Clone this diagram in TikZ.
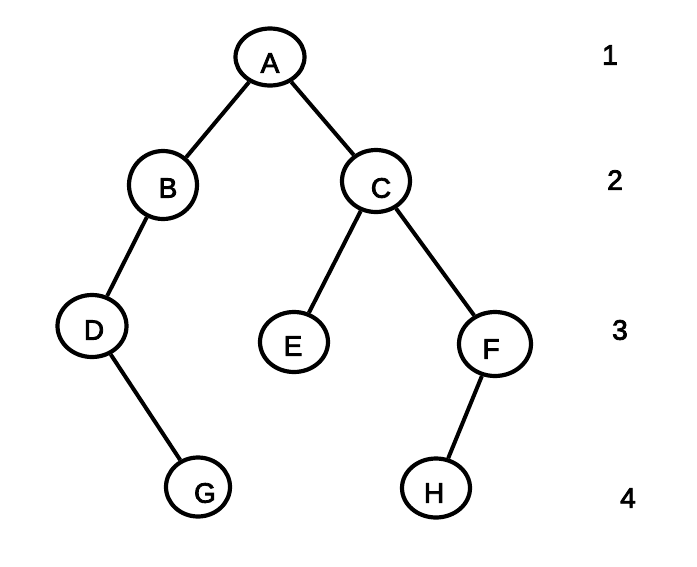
\documentclass[tikz,border=0pt]{standalone}
\usepackage{fontspec}
\setmainfont{Liberation Sans}[BoldFont=Liberation Sans,BoldFeatures={FakeBold=3}]
\usetikzlibrary{shapes.geometric}
\begin{document}
\begin{tikzpicture}[x=1pt,y=-1pt,
  tnode/.style={draw,ellipse,line width=4.2pt,inner sep=0pt,minimum width=#1},
  lbl/.style={font=\fontsize{28}{30}\selectfont\bfseries,inner sep=0pt,anchor=center},
  edge/.style={line width=4pt}]
\useasboundingbox (0,0) rectangle (697,566);
\node[tnode=69pt,minimum height=57pt] (A) at (270,57) {};
\node[tnode=68pt,minimum height=68pt] (B) at (163,185) {};
\node[tnode=68pt,minimum height=62pt] (C) at (376,181) {};
\node[tnode=69pt,minimum height=62pt] (D) at (92,326) {};
\node[tnode=68pt,minimum height=60pt] (E) at (294,342) {};
\node[tnode=72pt,minimum height=64pt] (F) at (495,344) {};
\node[tnode=64pt,minimum height=59pt] (G) at (198,487) {};
\node[tnode=68pt,minimum height=59pt] (H) at (436,488) {};
\node[lbl] (tA) at (270,63) {A};
\node[lbl] (tB) at (168,188) {B};
\node[lbl] (tC) at (381,188) {C};
\node[lbl] (tD) at (94,330) {D};
\node[lbl] (tE) at (293,346) {E};
\node[lbl] (tF) at (491,349) {F};
\node[lbl] (tG) at (205,493) {G};
\node[lbl] (tH) at (434,493) {H};
\node[lbl] (l1) at (610,55) {1};
\node[lbl] (l2) at (615,180) {2};
\node[lbl] (l3) at (620,330) {3};
\node[lbl] (l4) at (628,498) {4};
\draw[edge] (A) -- (B);
\draw[edge] (A) -- (C);
\draw[edge] (B) -- (D);
\draw[edge] (C) -- (E);
\draw[edge] (C) -- (F);
\draw[edge] (D) -- (G);
\draw[edge] (F) -- (H);
\end{tikzpicture}
\end{document}
